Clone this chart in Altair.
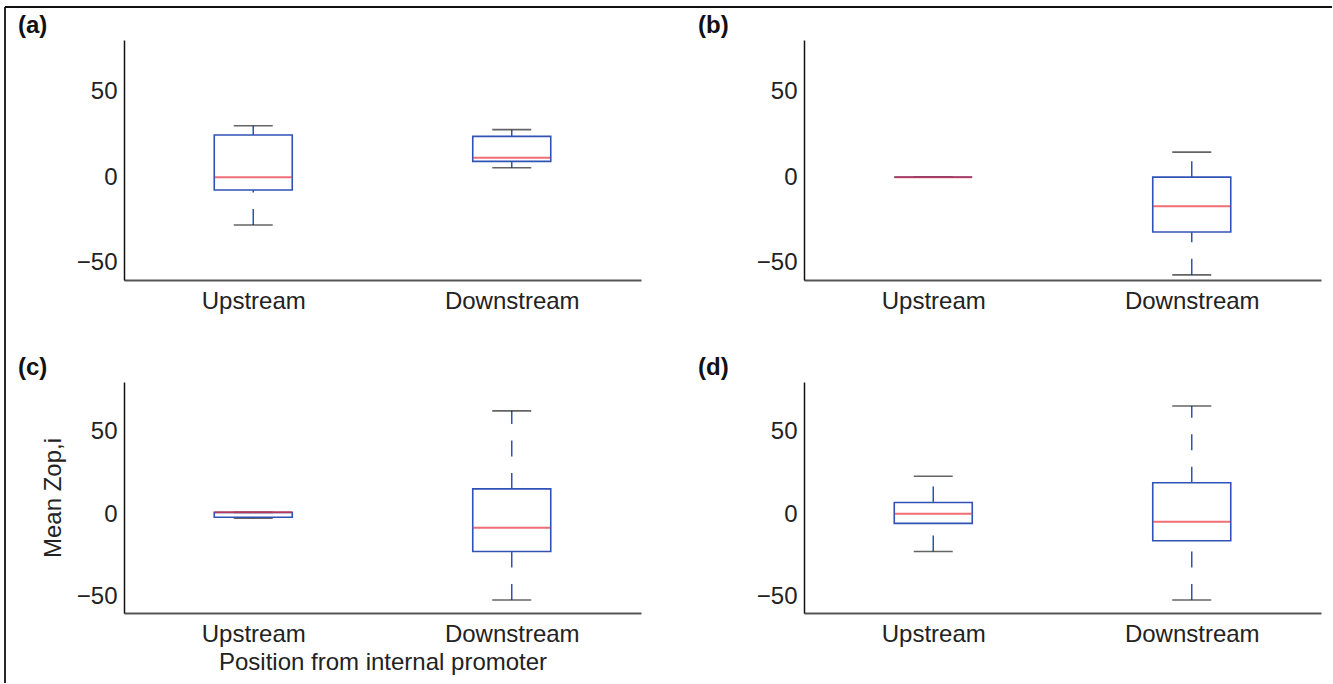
import altair as alt
import pandas as pd

# ---------------- data ----------------
categories = ["Upstream", "Downstream"]
panel_labels = ["(a)", "(b)", "(c)", "(d)"]
y_ticks = [-50, 0, 50]
y_domain = [-60, 80]

# whisker ends / quartiles / medians, [Upstream, Downstream]
a_min = [-27.9, 5.5]
a_q1 = [-7.5, 9.2]
a_med = [0.0, 11.3]
a_q3 = [24.6, 23.8]
a_max = [30.0, 27.7]

b_min = [0.0, -57.0]
b_q1 = [0.0, -32.0]
b_med = [0.0, -17.0]
b_q3 = [0.0, 0.0]
b_max = [0.0, 14.6]

c_min = [-2.5, -52.1]
c_q1 = [-2.0, -22.7]
c_med = [1.0, -8.4]
c_q3 = [1.0, 15.2]
c_max = [1.0, 62.5]

d_min = [-22.7, -52.1]
d_q1 = [-5.7, -16.2]
d_med = [0.1, -4.7]
d_q3 = [7.0, 18.9]
d_max = [22.9, 65.5]

x_title = "Position from internal promoter"
y_title = "Mean Zop,i"

# ---------------- style ----------------
FONT = "Liberation Sans"
BLUE = "#3152b5"
RED = "#e8303c"
CAP = "#222222"
FS = 24
W = 517


def panel(label, mins, q1s, meds, q3s, maxs, height, titles=False, frame=False):
    df = pd.DataFrame({"cat": categories, "lo": mins, "q1": q1s,
                       "med": meds, "q3": q3s, "hi": maxs})
    base = alt.Chart(df)
    xaxis = alt.Axis(title=x_title if titles else None, labelAngle=0,
                     titlePadding=4)
    yaxis = alt.Axis(title=y_title if titles else None, values=y_ticks,
                     titlePadding=11)
    xs = alt.Scale(type="point", padding=0.5)
    ys = alt.Scale(domain=y_domain, nice=False, zero=False)

    def X():
        return alt.X("cat:N", sort=categories, scale=xs, axis=xaxis)

    def Y(f):
        return alt.Y(f + ":Q", scale=ys, axis=yaxis)

    upper = base.mark_rule(color=BLUE, strokeWidth=1.5, strokeDash=[16, 16.5]).encode(
        x=X(), y=Y("q3"), y2="hi")
    lower = base.mark_rule(color=BLUE, strokeWidth=1.5, strokeDash=[16, 16.5]).encode(
        x=X(), y=Y("lo"), y2="q1")
    cap_hi = base.mark_tick(size=39, thickness=1.6, color=CAP).encode(x=X(), y=Y("hi"))
    cap_lo = base.mark_tick(size=39, thickness=1.6, color=CAP).encode(x=X(), y=Y("lo"))
    box = base.mark_bar(size=78, fillOpacity=0, stroke=BLUE, strokeWidth=1.6).encode(
        x=X(), y=Y("q1"), y2="q3")
    med = base.mark_tick(size=77, thickness=2, color=RED).encode(x=X(), y=Y("med"))

    lab_df = pd.DataFrame({"label": [label]})
    lab = alt.Chart(lab_df).mark_text(
        align="left", baseline="middle", fontWeight="bold", fontSize=24,
        font=FONT, color="#111").encode(
        text="label:N", x=alt.value(-106), y=alt.value(-14))

    layers = [upper, lower, cap_hi, cap_lo, box, med, lab]
    if frame:
        fr = alt.Chart(lab_df)
        left = fr.mark_rule(color="#111", strokeWidth=1.8).encode(
            x=alt.value(-119), y=alt.value(-33), y2=alt.value(643))
        top = fr.mark_rule(color="#111", strokeWidth=1.8).encode(
            x=alt.value(-119), x2=alt.value(1208), y=alt.value(-33))
        layers += [left, top]
    return alt.layer(*layers).properties(width=W, height=height)


pa = panel(panel_labels[0], a_min, a_q1, a_med, a_q3, a_max, 240, frame=True)
pb = panel(panel_labels[1], b_min, b_q1, b_med, b_q3, b_max, 240)
pc = panel(panel_labels[2], c_min, c_q1, c_med, c_q3, c_max, 231, titles=True)
pd_ = panel(panel_labels[3], d_min, d_q1, d_med, d_q3, d_max, 231)

chart = alt.concat(
    pa, pb, pc, pd_, columns=2,
    spacing={"row": 102, "column": 163}, bounds="flush"
).properties(
    padding={"left": 4, "top": 6, "right": 0, "bottom": 0},
    background="white"
).configure_view(
    strokeWidth=0
).configure_axis(
    labelFont=FONT, titleFont=FONT, labelFontSize=FS, titleFontSize=FS,
    labelColor="#222", titleColor="#222", titleFontWeight="normal",
    ticks=False, tickSize=0, grid=False
).configure_axisX(
    domainColor="#555", domainWidth=2, labelPadding=9
).configure_axisY(
    domainColor="#111", domainWidth=1.5, labelPadding=7
)

chart.save("out.html", embed_options={"renderer": "svg", "actions": False})
